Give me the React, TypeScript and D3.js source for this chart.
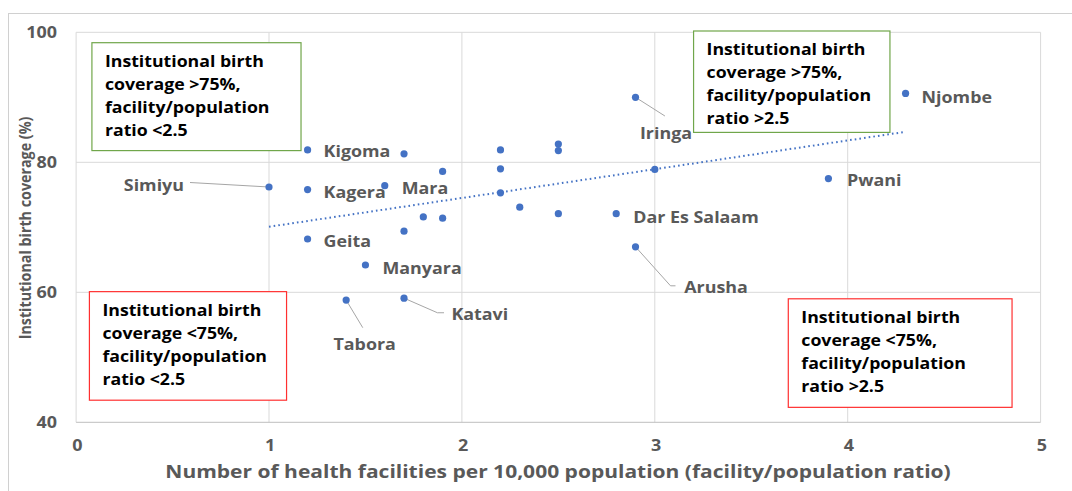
import React from 'react';
import * as d3 from 'd3';

// regions of Tanzania: health facilities per 10,000 population vs institutional birth coverage
const regions = [
  'Simiyu', 'Kigoma', 'Kagera', 'Geita', 'Tabora', 'Manyara', 'Mara', '', '', 'Katavi',
  '', '', '', '', '', '', '', '', '', '',
  'Dar Es Salaam', 'Iringa', 'Arusha', '', 'Pwani', 'Njombe',
];
const facilityRatio = [
  1.0, 1.2, 1.2, 1.2, 1.4, 1.5, 1.6, 1.7, 1.7, 1.7,
  1.8, 1.9, 1.9, 2.2, 2.2, 2.2, 2.3, 2.5, 2.5, 2.5,
  2.8, 2.9, 2.9, 3.0, 3.9, 4.3,
];
const birthCoverage = [
  76.2, 81.9, 75.8, 68.2, 58.8, 64.2, 76.4, 81.3, 69.4, 59.1,
  71.6, 78.6, 71.4, 81.9, 79.0, 75.3, 73.1, 82.8, 81.8, 72.1,
  72.1, 90.0, 67.0, 78.9, 77.5, 90.6,
];

const xTicks = [0, 1, 2, 3, 4, 5];
const yTicks = [40, 60, 80, 100];

const xTitle = 'Number of health facilities per 10,000 population (facility/population ratio)';
const yTitle = 'Institutional birth coverage (%)';

const noteLines = [
  ['Institutional birth', 'coverage >75%,', 'facility/population', 'ratio <2.5'],
  ['Institutional birth', 'coverage >75%,', 'facility/population', 'ratio >2.5'],
  ['Institutional birth', 'coverage <75%,', 'facility/population', 'ratio <2.5'],
  ['Institutional birth', 'coverage <75%,', 'facility/population', 'ratio >2.5'],
];
// box corners in data units [x0, y0, x1, y1]
const noteExtent = [
  [0.082, 98.4, 1.166, 81.8],
  [3.201, 100.2, 4.219, 84.6],
  [0.069, 60.1, 1.091, 43.4],
  [3.692, 59.0, 4.852, 42.3],
];
const noteColor = ['#70a64a', '#70a64a', '#ff3030', '#ff3030'];

// label placement relative to the point (px)
const labelPos: Record<string, any> = {
  Simiyu: { dx: -85, dy: -2, anchor: 'end', leader: [[-79, -4.5]] },
  Kigoma: { dx: 16, dy: 1 },
  Kagera: { dx: 16, dy: 2 },
  Geita: { dx: 16, dy: 2 },
  Mara: { dx: 17, dy: 2 },
  Manyara: { dx: 17, dy: 3 },
  Tabora: { dx: -12.7, dy: 43.5, leader: [[16.6, 27.6]] },
  Katavi: { dx: 47.4, dy: 15.6, leader: [[33.4, 14.6], [40, 14.6]] },
  'Dar Es Salaam': { dx: 17, dy: 3.5 },
  Iringa: { dx: 4.4, dy: 35, leader: [[29.4, 18.7]] },
  Arusha: { dx: 48.7, dy: 40, leader: [[35, 39], [40, 39]] },
  Pwani: { dx: 18.6, dy: 1 },
  Njombe: { dx: 16, dy: 3 },
};

const FONT = '"Open Sans", sans-serif';

// the source picture is stretched sideways a little, so text gets a horizontal scale
const SText = ({ x, y, sx = 1.09, children, ...rest }: any) => (
  <text transform={`translate(${x},${y}) scale(${sx},1)`} dominantBaseline="central" {...rest}>
    {children}
  </text>
);

export default function App() {
  const width = 1072;
  const height = 491;

  const x = d3.scaleLinear().domain([0, 5]).range([76.1, 1040.6]);
  const y = d3.scaleLinear().domain([40, 100]).range([422.3, 32.3]);

  const pts = facilityRatio.map((v, i) => ({ name: regions[i], x: v, y: birthCoverage[i] }));

  // Excel-style linear trendline over the data range
  const mx = d3.mean(facilityRatio) as number;
  const my = d3.mean(birthCoverage) as number;
  const slope =
    d3.sum(pts, d => (d.x - mx) * (d.y - my)) / d3.sum(pts, d => (d.x - mx) ** 2);
  const icpt = my - slope * mx;
  const [xMin, xMax] = d3.extent(facilityRatio) as [number, number];
  const trend = d3.line<number>().x(d => x(d)).y(d => y(icpt + slope * d))([xMin, xMax]);

  return (
    <svg
      width={width}
      height={height}
      style={{ position: 'absolute', left: 0, top: 0, background: '#fff' }}
      fontFamily={FONT}
    >
      <rect x={8.5} y={13.5} width={1200} height={600} fill="#fff" stroke="#d0d0d0" />

      {/* grid */}
      {xTicks.map(t => (
        <line key={'gx' + t} x1={x(t)} x2={x(t)} y1={y(100)} y2={y(40)} stroke="#d9d9d9" />
      ))}
      {yTicks.map(t => (
        <line key={'gy' + t} x1={x(0)} x2={x(5)} y1={y(t)} y2={y(t)} stroke={t === 40 ? '#bfbfbf' : '#d9d9d9'} />
      ))}

      {/* tick labels */}
      {yTicks.map(t => (
        <SText key={'ty' + t} x={57} y={y(t)} sx={1.1} textAnchor="end"
          fontSize={16.3} fontWeight="bold" fill="#595959">{t}</SText>
      ))}
      {xTicks.map(t => (
        <SText key={'tx' + t} x={x(t) + 1.2} y={445} sx={1.1} textAnchor="middle"
          fontSize={16.3} fontWeight="bold" fill="#595959">{t}</SText>
      ))}

      {/* axis titles */}
      <SText x={558} y={471} sx={1.13} textAnchor="middle"
        fontSize={18.6} fontWeight="bold" fill="#595959">{xTitle}</SText>
      <text transform="translate(31,228) rotate(-90) scale(1,1.1)" textAnchor="middle"
        fontSize={14.3} fontWeight="bold" fill="#595959">{yTitle}</text>

      {/* quadrant notes */}
      {noteLines.map((lines, i) => {
        const [x0, y0, x1, y1] = noteExtent[i];
        return (
          <g key={'n' + i}>
            <rect x={x(x0)} y={y(y0)} width={x(x1) - x(x0)} height={y(y1) - y(y0)}
              fill="#fff" stroke={noteColor[i]} strokeWidth={1.2} />
            {lines.map((l, j) => (
              <SText key={j} x={x(x0) + 13} y={y(y0) + 18 + j * 22.9} sx={1.08}
                fontSize={16.4} fontWeight="bold" fill="#000">{l}</SText>
            ))}
          </g>
        );
      })}

      {/* trendline */}
      <path d={trend || ''} fill="none" stroke="#4472c4" strokeWidth={2} strokeDasharray="1.6 3.1" />

      {/* leader lines */}
      {pts.filter(d => labelPos[d.name] && labelPos[d.name].leader).map(d => {
        const p = labelPos[d.name];
        const cx = x(d.x), cy = y(d.y);
        const path = d3.path();
        path.moveTo(cx, cy);
        p.leader.forEach((q: number[]) => path.lineTo(cx + q[0], cy + q[1]));
        return <path key={'l' + d.name} d={path.toString()} fill="none" stroke="#a6a6a6" strokeWidth={1} />;
      })}

      {/* points */}
      {pts.map((d, i) => (
        <circle key={'p' + i} cx={x(d.x)} cy={y(d.y)} r={3.6} fill="#4472c4" />
      ))}

      {/* data labels */}
      {pts.filter(d => labelPos[d.name]).map(d => {
        const p = labelPos[d.name];
        return (
          <SText key={'t' + d.name} x={x(d.x) + p.dx} y={y(d.y) + p.dy} textAnchor={p.anchor || 'start'}
            fontSize={16.4} fontWeight="bold" fill="#595959">{d.name}</SText>
        );
      })}
    </svg>
  );
}
